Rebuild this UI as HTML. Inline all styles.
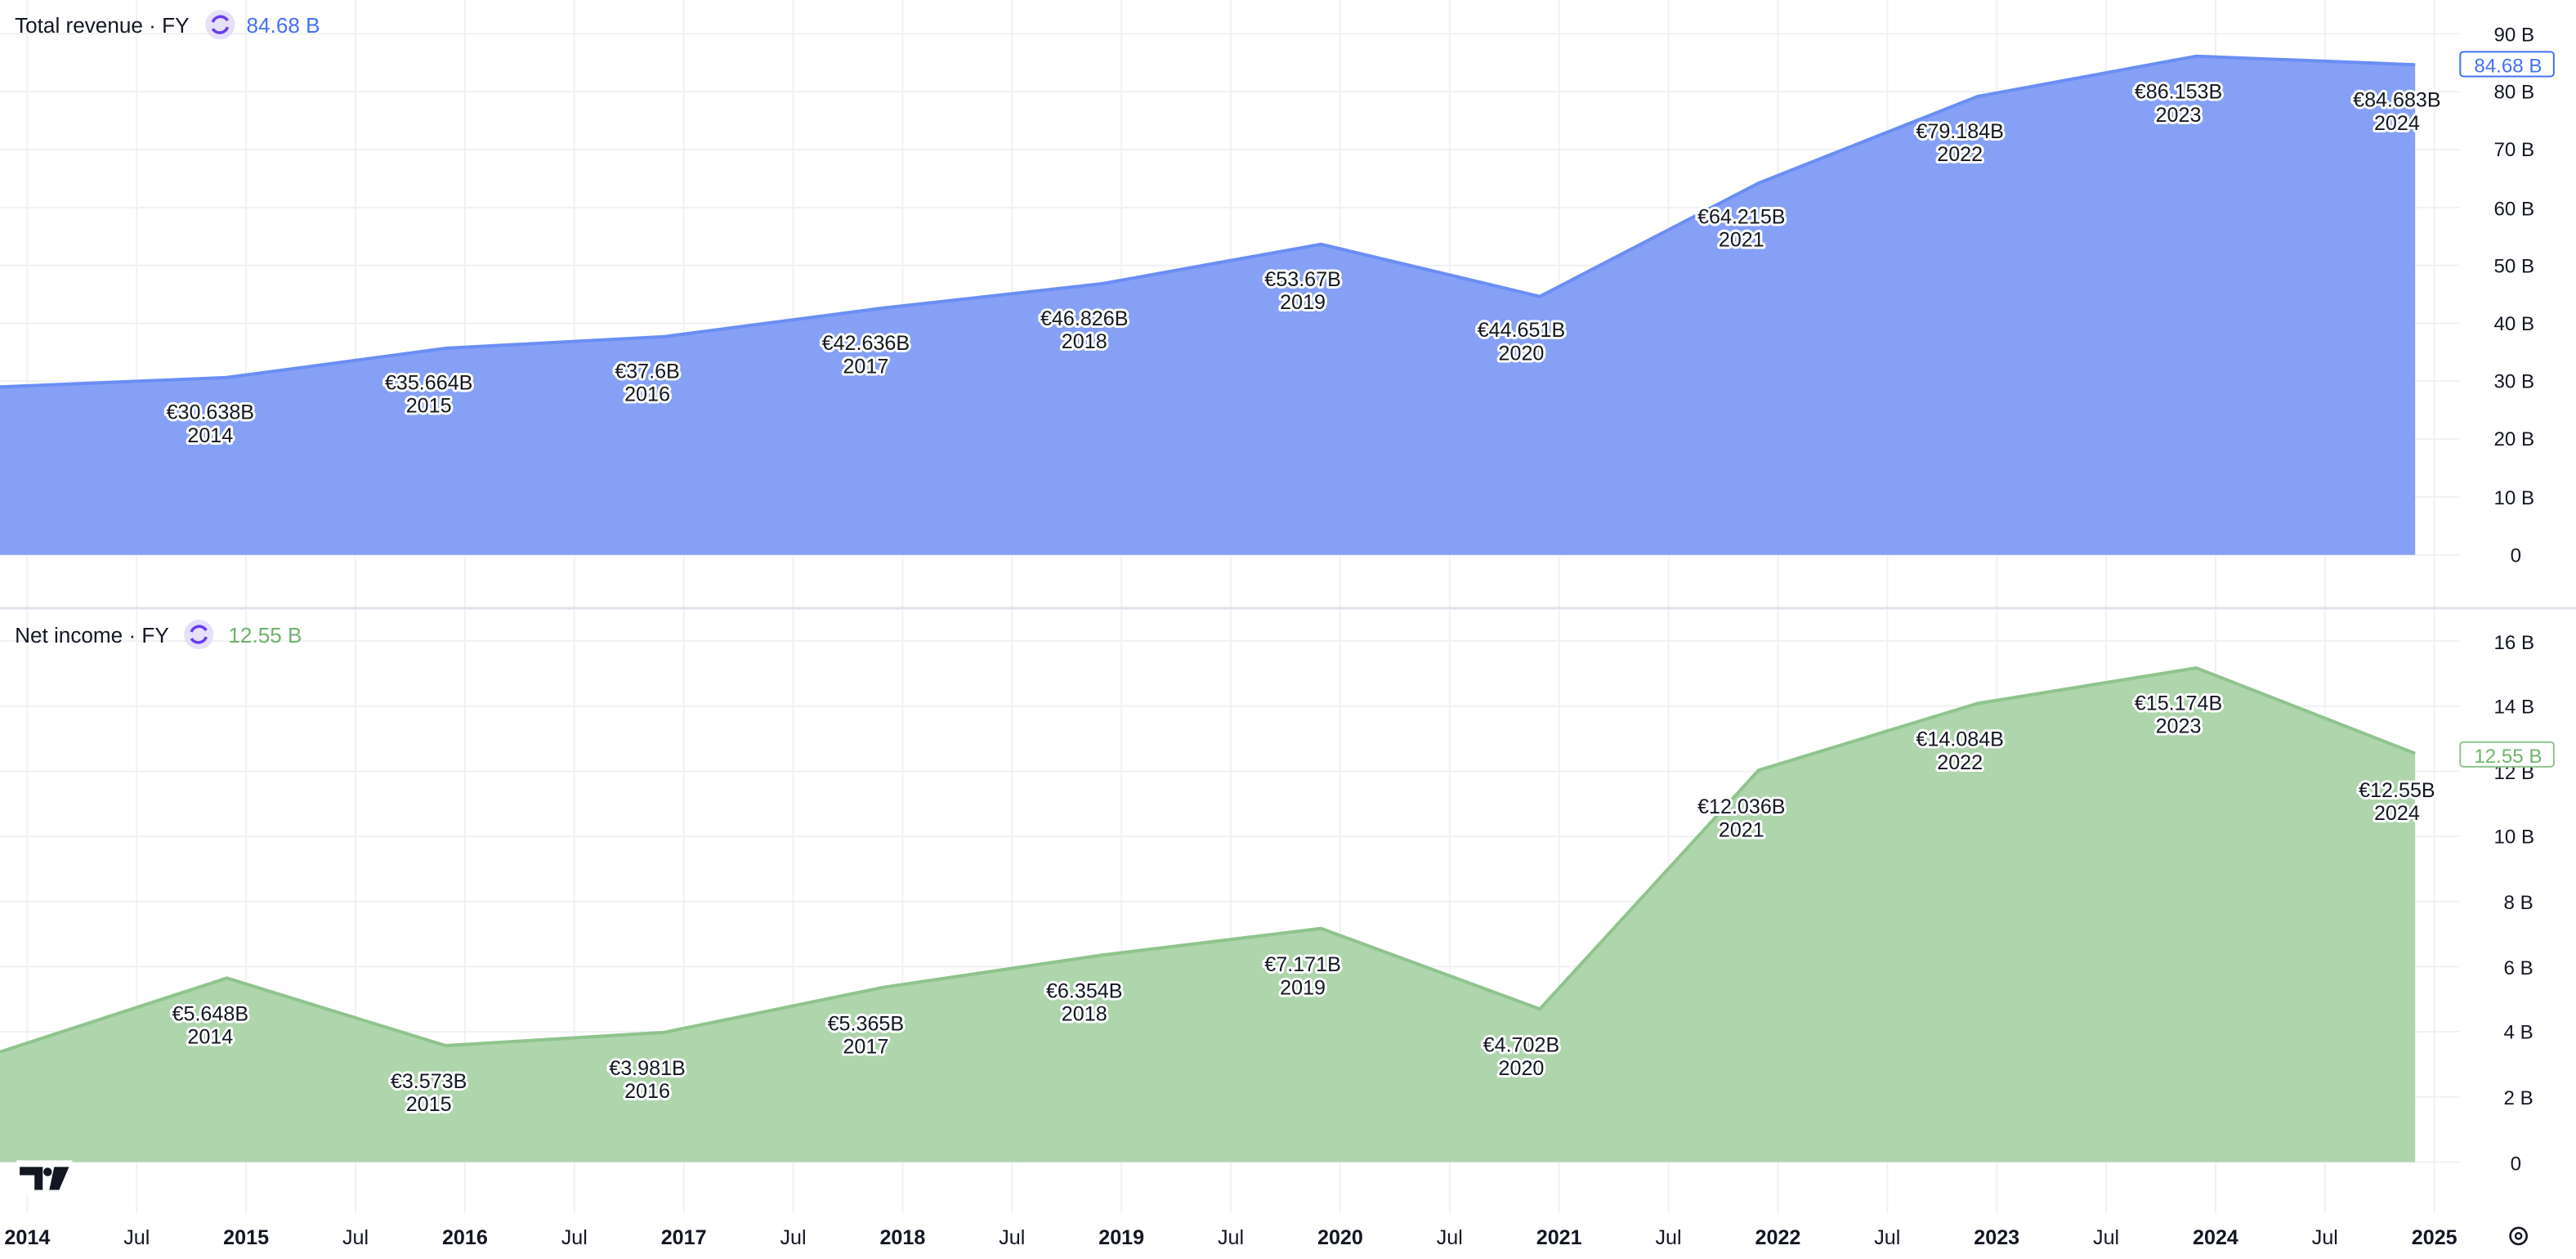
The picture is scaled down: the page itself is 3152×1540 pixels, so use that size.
<!DOCTYPE html>
<html><head><meta charset="utf-8"><style>
html,body{margin:0;padding:0;background:#fff;}
svg{display:block;font-family:"Liberation Sans",sans-serif;}
.lb{font-size:12.5px;fill:#131722;text-anchor:middle;stroke:#fff;stroke-width:3px;paint-order:stroke;stroke-linejoin:round;}
.ax{font-size:12px;fill:#131722;}
.tx{font-size:12.5px;fill:#131722;text-anchor:middle;}
</style></head><body>
<svg width="3152" height="1540" viewBox="0 0 1568 766" preserveAspectRatio="none" xmlns="http://www.w3.org/2000/svg">
<g stroke="#f0f1f3" stroke-width="1">
<!-- vertical grid -->
<path d="M16.6 0V738M83.2 0V738M149.8 0V738M216.4 0V738M283 0V738M349.6 0V738M416.2 0V738M482.8 0V738M549.4 0V738M616 0V738M682.6 0V738M749.2 0V738M815.8 0V738M882.4 0V738M949 0V738M1015.6 0V738M1082.2 0V738M1148.8 0V738M1215.4 0V738M1282 0V738M1348.6 0V738M1415.2 0V738M1481.8 0V738"/>
<!-- top horiz -->
<path d="M0 20.6H1497M0 55.8H1497M0 91H1497M0 126.3H1497M0 161.5H1497M0 196.7H1497M0 231.9H1497M0 267.2H1497M0 302.4H1497M0 337.6H1497"/>
<!-- bottom horiz -->
<path d="M0 390H1497M0 429.6H1497M0 469.3H1497M0 508.9H1497M0 548.5H1497M0 588.1H1497M0 627.8H1497M0 667.4H1497M0 707H1497"/>
</g>
<line x1="0" y1="370" x2="1568" y2="370" stroke="#e0e3eb" stroke-width="1.5"/>

<!-- revenue area -->
<path d="M0 235.4L138.1 229.7L271.3 211.9L404.5 204.8L537.7 187.4L670.9 172.6L804.1 148.6L937.3 180.4L1070.5 111.4L1203.7 58.7L1336.9 34.2L1470.1 39.4L1470.1 337.6L0 337.6Z" fill="#86a0f6"/>
<path d="M0 235.4L138.1 229.7L271.3 211.9L404.5 204.8L537.7 187.4L670.9 172.6L804.1 148.6L937.3 180.4L1070.5 111.4L1203.7 58.7L1336.9 34.2L1470.1 39.4" fill="none" stroke="#6a8ef4" stroke-width="2"/>

<!-- net income area -->
<path d="M0 640L138.1 595.1L271.3 636.2L404.5 628.1L537.7 600.7L670.9 581.1L804.1 564.9L937.3 613.9L1070.5 468.6L1203.7 428L1336.9 406.4L1470.1 458.4L1470.1 707L0 707Z" fill="#aed5ac"/>
<path d="M0 640L138.1 595.1L271.3 636.2L404.5 628.1L537.7 600.7L670.9 581.1L804.1 564.9L937.3 613.9L1070.5 468.6L1203.7 428L1336.9 406.4L1470.1 458.4" fill="none" stroke="#8fc48d" stroke-width="2"/>

<!-- revenue labels -->
<g class="lb">
<text x="128" y="255">€30.638B</text><text x="128" y="269">2014</text>
<text x="261" y="237">€35.664B</text><text x="261" y="251">2015</text>
<text x="394" y="230">€37.6B</text><text x="394" y="244">2016</text>
<text x="527" y="213">€42.636B</text><text x="527" y="227">2017</text>
<text x="660" y="198">€46.826B</text><text x="660" y="212">2018</text>
<text x="793" y="174">€53.67B</text><text x="793" y="188">2019</text>
<text x="926" y="205">€44.651B</text><text x="926" y="219">2020</text>
<text x="1060" y="136">€64.215B</text><text x="1060" y="150">2021</text>
<text x="1193" y="84">€79.184B</text><text x="1193" y="98">2022</text>
<text x="1326" y="60">€86.153B</text><text x="1326" y="74">2023</text>
<text x="1459" y="65">€84.683B</text><text x="1459" y="79">2024</text>
</g>
<!-- net income labels -->
<g class="lb">
<text x="128" y="621">€5.648B</text><text x="128" y="635">2014</text>
<text x="261" y="662">€3.573B</text><text x="261" y="676">2015</text>
<text x="394" y="654">€3.981B</text><text x="394" y="668">2016</text>
<text x="527" y="627">€5.365B</text><text x="527" y="641">2017</text>
<text x="660" y="607">€6.354B</text><text x="660" y="621">2018</text>
<text x="793" y="591">€7.171B</text><text x="793" y="605">2019</text>
<text x="926" y="640">€4.702B</text><text x="926" y="654">2020</text>
<text x="1060" y="495">€12.036B</text><text x="1060" y="509">2021</text>
<text x="1193" y="454">€14.084B</text><text x="1193" y="468">2022</text>
<text x="1326" y="432">€15.174B</text><text x="1326" y="446">2023</text>
<text x="1459" y="485">€12.55B</text><text x="1459" y="499">2024</text>
</g>

<!-- right axis top -->
<g class="ax">
<text x="1518" y="25">90 B</text><text x="1518" y="60">80 B</text><text x="1518" y="95">70 B</text>
<text x="1518" y="131">60 B</text><text x="1518" y="166">50 B</text><text x="1518" y="201">40 B</text>
<text x="1518" y="236">30 B</text><text x="1518" y="271">20 B</text><text x="1518" y="307">10 B</text>
<text x="1528" y="342">0</text>
<text x="1518" y="395">16 B</text><text x="1518" y="434">14 B</text><text x="1518" y="474">12 B</text>
<text x="1518" y="513">10 B</text><text x="1524" y="553">8 B</text><text x="1524" y="593">6 B</text>
<text x="1524" y="632">4 B</text><text x="1524" y="672">2 B</text><text x="1528" y="712">0</text>
</g>
<rect x="1497.5" y="31.5" width="57" height="15" rx="2" fill="#fff" stroke="#4471f4" stroke-width="1"/>
<text x="1506" y="44" font-size="12" fill="#4471f4">84.68 B</text>
<rect x="1497.5" y="451.5" width="57" height="15" rx="2" fill="#fff" stroke="#8fc48d" stroke-width="1"/>
<text x="1506" y="464" font-size="12" fill="#6fb36d">12.55 B</text>

<!-- headers -->
<text x="9" y="20" font-size="13" fill="#131722">Total revenue · FY</text>
<circle cx="134" cy="15" r="9" fill="#e6e0fb"/>
<g fill="none" stroke="#6a3df0" stroke-width="1.8"><path d="M129.5 13.5a5 5 0 0 1 9 -1"/><path d="M138.5 16.5a5 5 0 0 1 -9 1"/></g>
<text x="150" y="20" font-size="13" fill="#4471f4">84.68 B</text>
<text x="9" y="391" font-size="13" fill="#131722">Net income · FY</text>
<circle cx="121" cy="386" r="9" fill="#e6e0fb"/>
<g fill="none" stroke="#6a3df0" stroke-width="1.8"><path d="M116.5 384.5a5 5 0 0 1 9 -1"/><path d="M125.5 387.5a5 5 0 0 1 -9 1"/></g>
<text x="139" y="391" font-size="13" fill="#6fb36d">12.55 B</text>

<!-- logo -->
<rect x="10" y="706" width="34" height="20" fill="#fff"/>
<path d="M12 710H26V724H21V715H12Z M33 710H42L36 724H30Z" fill="#131722"/>
<circle cx="29" cy="713" r="2.6" fill="#131722"/>

<!-- time axis -->
<g class="tx">
<text x="16.6" y="757" font-weight="bold">2014</text><text x="83.2" y="757">Jul</text>
<text x="149.8" y="757" font-weight="bold">2015</text><text x="216.4" y="757">Jul</text>
<text x="283" y="757" font-weight="bold">2016</text><text x="349.6" y="757">Jul</text>
<text x="416.2" y="757" font-weight="bold">2017</text><text x="482.8" y="757">Jul</text>
<text x="549.4" y="757" font-weight="bold">2018</text><text x="616" y="757">Jul</text>
<text x="682.6" y="757" font-weight="bold">2019</text><text x="749.2" y="757">Jul</text>
<text x="815.8" y="757" font-weight="bold">2020</text><text x="882.4" y="757">Jul</text>
<text x="949" y="757" font-weight="bold">2021</text><text x="1015.6" y="757">Jul</text>
<text x="1082.2" y="757" font-weight="bold">2022</text><text x="1148.8" y="757">Jul</text>
<text x="1215.4" y="757" font-weight="bold">2023</text><text x="1282" y="757">Jul</text>
<text x="1348.6" y="757" font-weight="bold">2024</text><text x="1415.2" y="757">Jul</text>
<text x="1481.8" y="757" font-weight="bold">2025</text>
</g>
<circle cx="1533" cy="752" r="5" fill="none" stroke="#131722" stroke-width="1.3"/>
<circle cx="1533" cy="752" r="1.8" fill="none" stroke="#131722" stroke-width="1.2"/>
</svg>
</body></html>
